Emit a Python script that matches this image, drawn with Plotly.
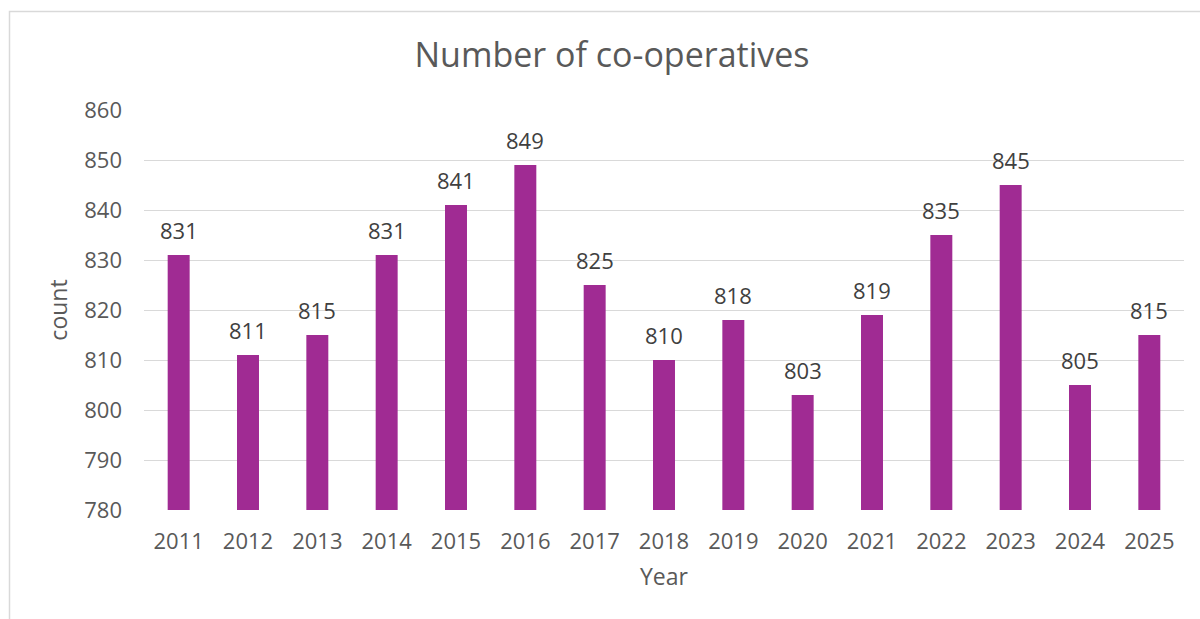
import plotly.graph_objects as go

# Co-operatives counted each year
years = ["2011", "2012", "2013", "2014", "2015", "2016", "2017", "2018",
         "2019", "2020", "2021", "2022", "2023", "2024", "2025"]
counts = [831, 811, 815, 831, 841, 849, 825, 810, 818, 803, 819, 835, 845, 805, 815]

y_ticks = [780, 790, 800, 810, 820, 830, 840, 850, 860]

BAR = "#A02B93"
TEXT = "#595959"
LABEL = "#404040"
GRID = "#D9D9D9"
FONT = "Open Sans, Liberation Sans, sans-serif"

fig = go.Figure(
    go.Bar(
        x=years,
        y=counts,
        marker=dict(color=BAR, line=dict(width=0)),
        hoverinfo="x+y",
    )
)

# value labels above each bar (category axis positions are indices)
for i, c in enumerate(counts):
    fig.add_annotation(
        x=i, y=c, text=str(c), showarrow=False,
        yanchor="middle", yshift=25,
        font=dict(family=FONT, size=22, color=LABEL),
    )

# light frame round the chart area
fig.add_shape(
    type="rect", xref="paper", yref="paper",
    x0=(9.5 - 144) / 1040, x1=1.2, y0=-0.6, y1=(510 - 11.5) / 400,
    line=dict(color=GRID, width=1.5), fillcolor="rgba(0,0,0,0)", layer="below",
)

fig.update_layout(
    width=1200, height=619,
    margin=dict(l=144, r=16, t=110, b=109, autoexpand=False),
    paper_bgcolor="white", plot_bgcolor="white",
    bargap=0.683,
    showlegend=False,
    font=dict(family=FONT, color=TEXT),
    title=dict(
        text="Number of co-operatives",
        x=612 / 1200, xanchor="center", xref="container",
        y=(619 - 55) / 619, yanchor="middle",
        font=dict(family=FONT, size=34, color=TEXT),
    ),
    xaxis=dict(
        type="category",
        range=[-0.5, len(years) - 0.5],
        showgrid=False, showline=False, ticks="",
        tickfont=dict(family=FONT, size=22, color=TEXT),
        ticklabelstandoff=16,
        title=dict(text="Year", standoff=14,
                   font=dict(family=FONT, size=23, color=TEXT)),
    ),
    yaxis=dict(
        range=[780, 860],
        tickvals=y_ticks,
        showgrid=True, gridcolor=GRID, gridwidth=1.3,
        zeroline=False, showline=False, ticks="",
        tickfont=dict(family=FONT, size=22, color=TEXT),
        ticklabelstandoff=21,
        title=dict(text="count", standoff=10,
                   font=dict(family=FONT, size=23, color=TEXT)),
    ),
)

fig.write_html("out.html")
